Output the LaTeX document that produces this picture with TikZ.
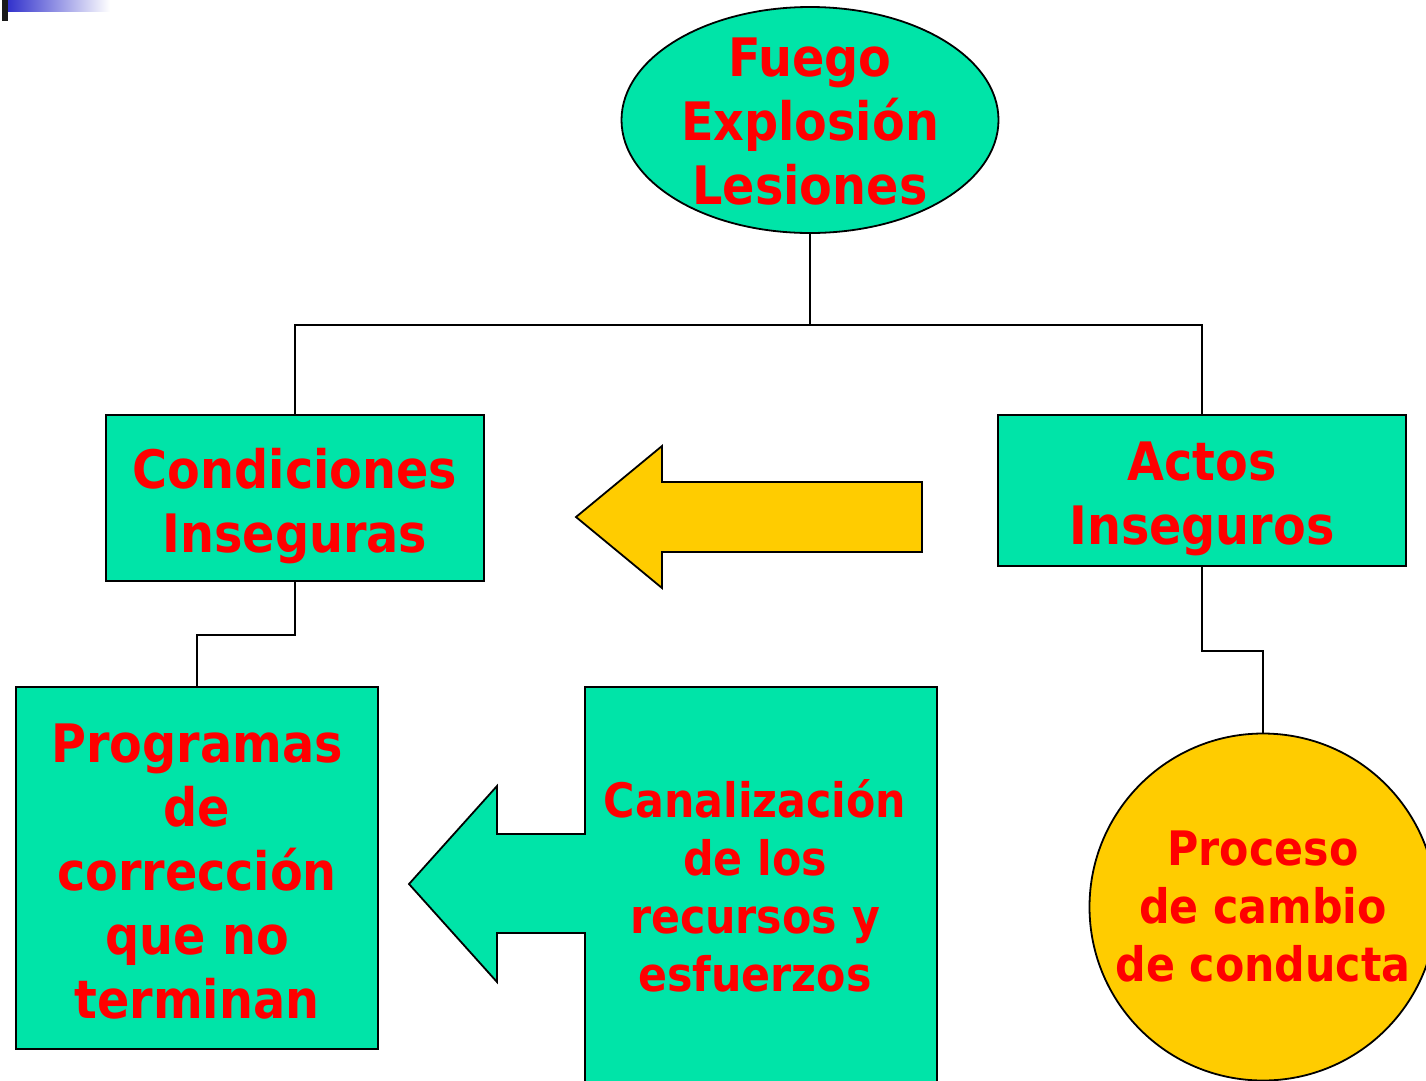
\documentclass[tikz,border=0pt]{standalone}
\usepackage{fontspec}
\usetikzlibrary{shapes.geometric}
\setmainfont{DejaVu Sans Condensed}
\definecolor{verde}{RGB}{0,228,168}
\definecolor{amarillo}{RGB}{255,204,0}
\definecolor{rojo}{RGB}{255,0,0}
\definecolor{azul}{RGB}{51,51,204}
\begin{document}
\begin{tikzpicture}[x=1pt,y=-1pt,
    caja/.style={draw, fill=verde, line width=1.8pt, inner sep=0pt},
    rotulo/.style={inner sep=0pt, align=center, text=rojo,
                 font=\bfseries\fontsize{53}{64}\selectfont},
    texto/.style={inner sep=0pt, align=center, text=rojo,
                 font=\bfseries\fontsize{47.5}{58}\selectfont},
    linea/.style={line width=1.8pt}]
    \useasboundingbox (0,0) rectangle (1426,1080);

    % banda de la plantilla
    \shade[left color=azul, right color=white] (8,0) rectangle (110,11);
    \fill[black!90] (2,0) rectangle (8,21);

    \node[caja, ellipse, minimum width=377pt, minimum height=226pt] (fuego) at (810,120) {};
    \node[rotulo] at ([yshift=-2pt]fuego.center) {Fuego\\Explosión\\Lesiones};
    \node[caja, minimum width=378pt, minimum height=166pt] (condiciones) at (295,498) {};
    \node[rotulo] at ([yshift=-8pt]condiciones.center) {Condiciones\\Inseguras};
    \node[caja, minimum width=408pt, minimum height=151pt] (actos) at (1202,490.5) {};
    \node[rotulo] at ([yshift=-8pt]actos.center) {Actos\\Inseguros};
    \node[caja, minimum width=362pt, minimum height=362pt] (programas) at (197,868) {};
    \node[rotulo] at ([yshift=-4pt]programas.center) {Programas\\de\\corrección\\que no\\terminan};

    % caja con flecha verde
    \draw[linea, fill=verde] (585,687) -- (937,687) -- (937,1095) -- (585,1095) -- (585,933)
        -- (497,933) -- (497,982) -- (409,884) -- (497,786) -- (497,834) -- (585,834) -- cycle;
    \node[texto] (canal) at (755,886) {Canalización\\de los\\recursos y\\esfuerzos};

    \node[caja, circle, fill=amarillo, minimum size=347pt] (proceso) at (1263,907) {};
    \node[texto] at (proceso.center) {Proceso\\de cambio\\de conducta};

    % flecha amarilla
    \draw[linea, fill=amarillo] (922,482) -- (662,482) -- (662,446) -- (576,517)
        -- (662,588) -- (662,552) -- (922,552) -- cycle;

    % conectores
    \draw[linea] (fuego.south) -- ++(0,91) coordinate (reparto);
    \draw[linea] (condiciones.north) |- (reparto) -| (actos.north);
    \draw[linea] (condiciones.south) -- ++(0,53) -| (programas.north);
    \draw[linea] (actos.south) -- ++(0,84) -| (proceso.north);
\end{tikzpicture}
\end{document}
